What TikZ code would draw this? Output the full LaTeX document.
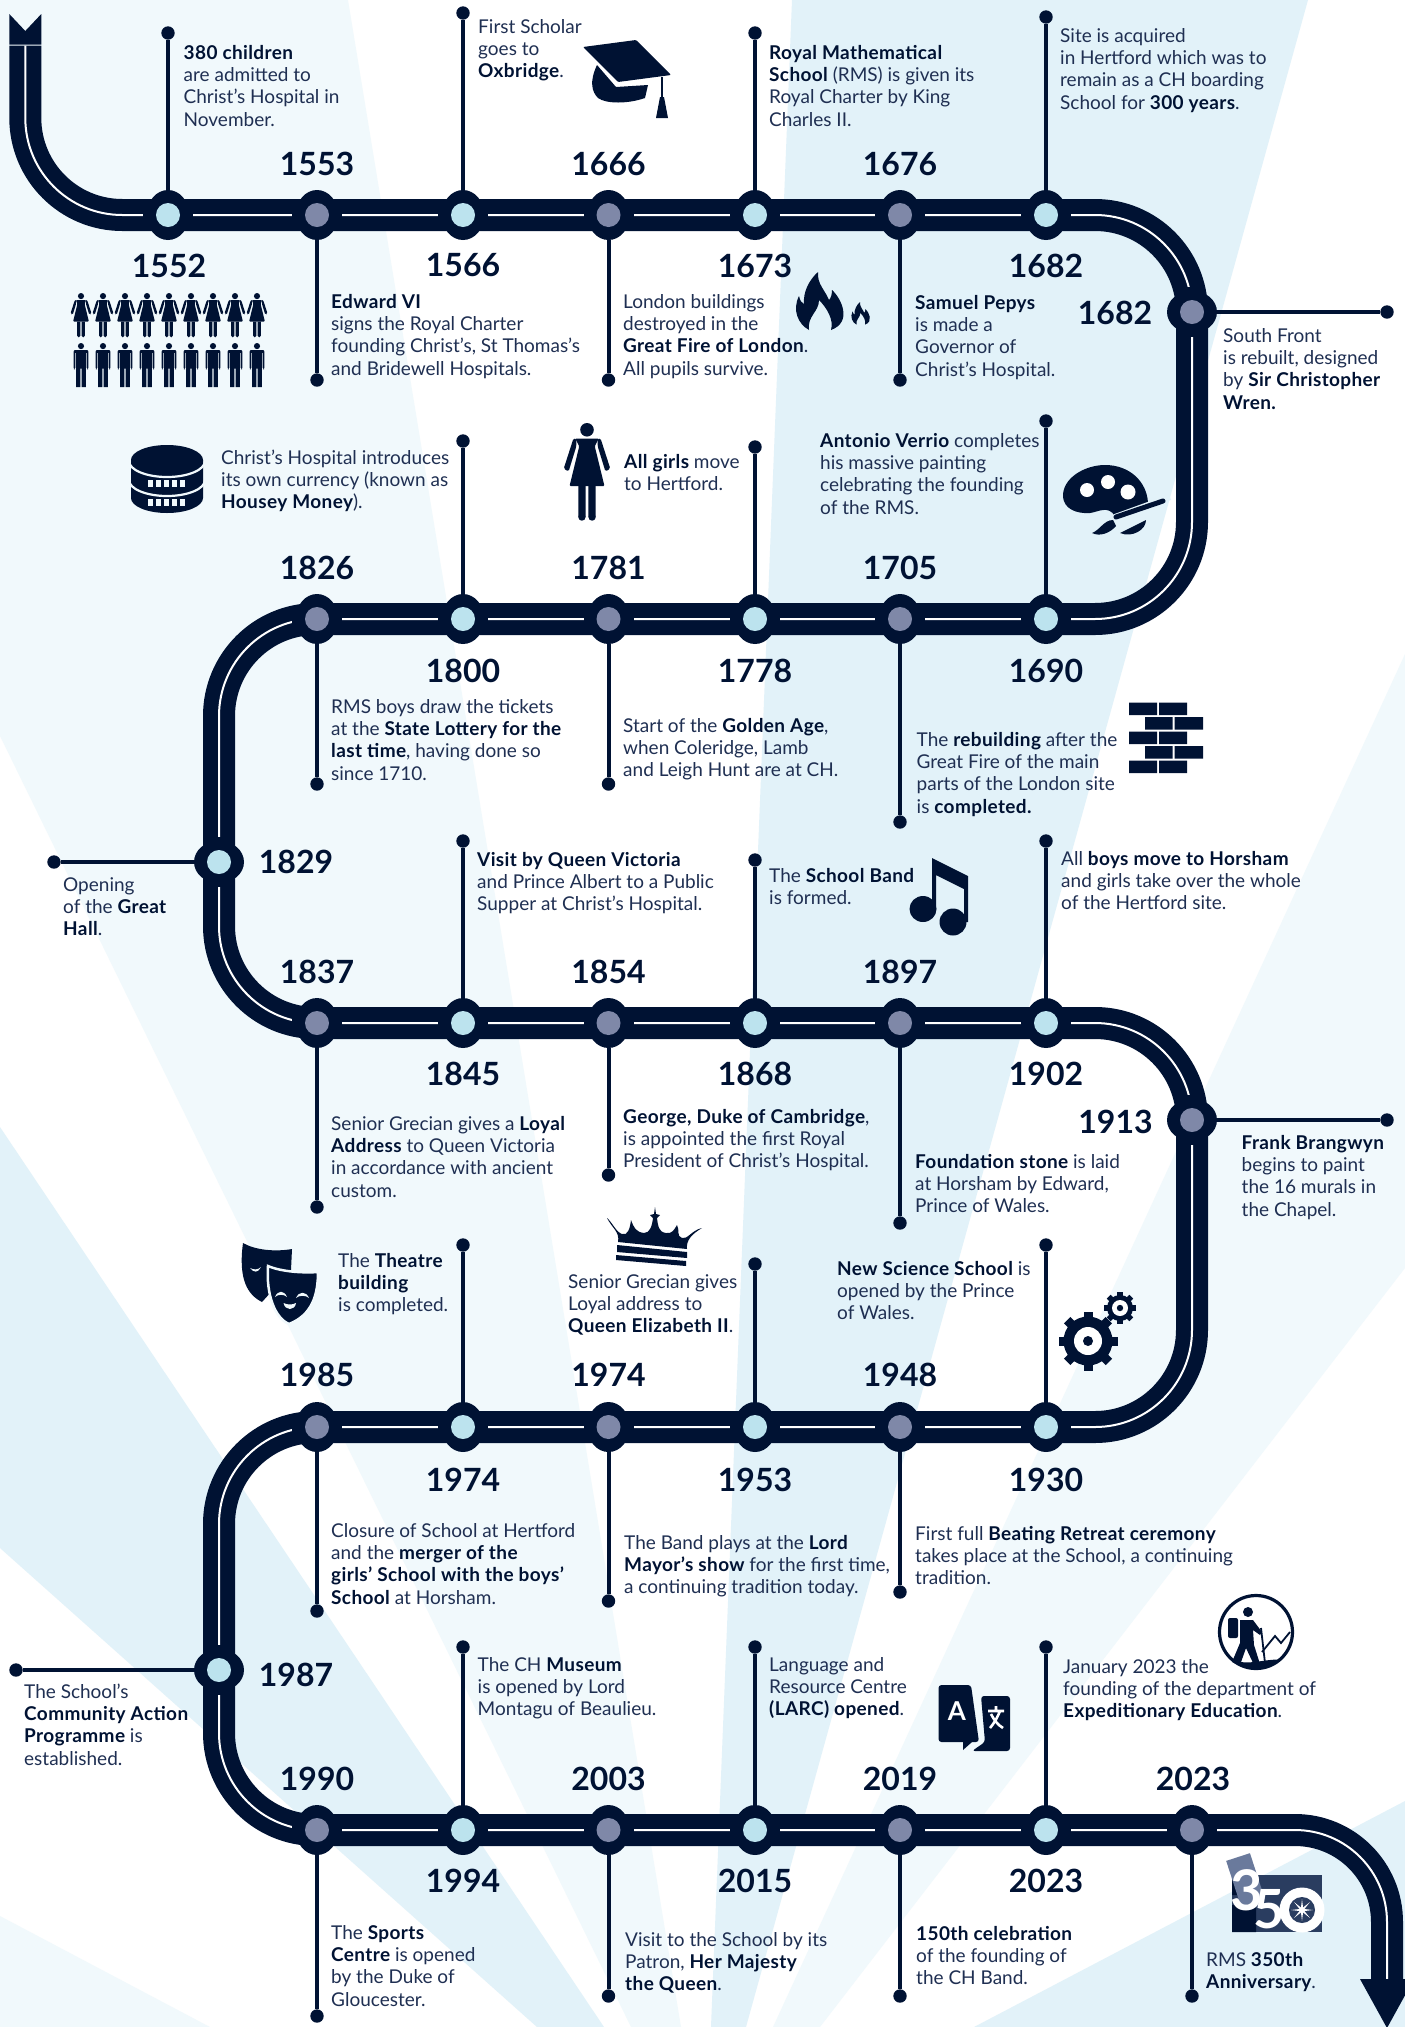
\documentclass[tikz,border=0pt]{standalone}
\usepackage{fontspec}
\usetikzlibrary{shapes.geometric}
\setmainfont{Lato}
\definecolor{trk}{HTML}{001233}
\definecolor{txtc}{HTML}{1F2F52}
\definecolor{pale}{HTML}{F1F9FC}
\definecolor{midb}{HTML}{E2F2F9}
\definecolor{greyst}{HTML}{7F88A8}
\definecolor{lightst}{HTML}{BCE3EE}
\definecolor{logob}{HTML}{2A3D60}
\definecolor{logog}{HTML}{6A7A9C}
\newcommand\bd[1]{{\bfseries\addfontfeature{LetterSpace=2}\color{trk}#1}}
\tikzset{
  stnh/.style={ellipse,fill=trk,inner sep=0pt,minimum width=42.5pt,minimum height=50pt},
  stnv/.style={ellipse,fill=trk,inner sep=0pt,minimum width=50pt,minimum height=42.5pt},
  stnc/.style={circle,inner sep=0pt,minimum size=24pt},
  stemline/.style={draw=trk,line width=4pt},
  stemdot/.style={circle,fill=trk,inner sep=0pt,minimum size=13.4pt},
  desc/.style={anchor=north west,inner sep=0pt,align=left,text=txtc,font=\fontsize{19}{22.3}\selectfont},
  yearlab/.style={anchor=center,inner sep=0pt,text=trk,font=\bfseries\fontsize{32}{32}\selectfont},
}
\newcommand\stnH[4]{\fill[trk] ({#2-25},{#3-8}) rectangle ({#2+25},{#3+8});
  \node[stnh] (#1) at (#2,#3) {}; \node[stnc,fill=#4] (#1c) at (#2,#3) {};}
\newcommand\stnV[4]{\fill[trk] ({#2-8},{#3-25}) rectangle ({#2+8},{#3+25});
  \node[stnv] (#1) at (#2,#3) {}; \node[stnc,fill=#4] (#1c) at (#2,#3) {};}
\newcommand\stemto[3]{\node[stemdot] (#1d) at (#2,#3) {}; \draw[stemline] (#1) -- (#1d);}
\newcommand\desctext[4]{\node[desc] (#1) at (#2,{#3-15}) {\rule{0pt}{15pt}#4};}
\newcommand\yr[4]{\node[yearlab] (#1) at (#2,#3) {#4};}
\newcommand\womanicon[3]{\begin{scope}[shift={(#1,#2)},scale=#3]
  \fill[trk] (0,7) circle[radius=7];
  \fill[trk,rounded corners=1] (-12,16) -- (12,16) -- (8,24) -- (18,65) -- (-18,65) -- (-8,24) -- cycle;
  \fill[trk] (-9,65) rectangle (-1.5,97) (1.5,65) rectangle (9,97);
  \fill[trk] (-5.25,97) circle[radius=3.75] (5.25,97) circle[radius=3.75];
  \fill[trk,rounded corners=1.5] (-11,16) -- (-14,16) -- (-24,47) -- (-19,50) -- (-11,24) -- cycle;
  \fill[trk,rounded corners=1.5] (11,16) -- (14,16) -- (24,47) -- (19,50) -- (11,24) -- cycle;
\end{scope}}
\newcommand\manicon[3]{\begin{scope}[shift={(#1,#2)},scale=#3]
  \fill[trk] (0,7) circle[radius=7];
  \fill[trk,rounded corners=1.5] (-11,16) rectangle (11,58);
  \fill[trk] (-11,55) rectangle (-1.3,100) (1.3,55) rectangle (11,100);
  \fill[trk,rounded corners=1.5] (-17,16) rectangle (-13,60) (13,16) rectangle (17,60);
  \fill[trk] (-14,16) rectangle (14,22);
\end{scope}}
\newcommand\flameicon[3]{\begin{scope}[shift={(#1,#2)},scale=#3]
 \fill[trk] (14,58) .. controls (3,52) and (-3,38) .. (4,24) .. controls (5,29) and (7,31) .. (9,32) .. controls (8,20) and (14,8) .. (23,0) .. controls (22,12) and (30,18) .. (34,28) .. controls (36,26) and (37,22) .. (37,18) .. controls (46,26) and (58,50) .. (36,58) .. controls (39,48) and (32,36) .. (24,28) .. controls (24,40) and (12,44) .. (14,58) -- cycle;
\end{scope}}
\begin{document}
\begin{tikzpicture}[x=1pt,y=-1pt]
\useasboundingbox (0,0) rectangle (1405,2027);
\fill[white] (0,0) rectangle (1405,2027);
% rays
\fill[pale] (0,0) -- (348,0) -- (681,2027) -- (631,2027) -- (0,736) -- cycle;
\fill[pale] (1405,654) -- (1405,1268) -- (820,2027) -- (773,2027) -- cycle;
\fill[pale] (0,1916) -- (210,2027) -- (0,2027) -- cycle;
\fill[midb] (792,0) -- (1308,0) -- (746,2027) -- (711,2027) -- cycle;
\fill[midb] (0,1127) -- (604,2027) -- (537,2027) -- (0,1548) -- cycle;
\fill[midb] (1405,1801) -- (1405,2027) -- (974,2027) -- cycle;
% track
\def\trackpath{(25.3,45.5) -- (25.3,215) -- (1192,215) -- (1192,619) -- (219,619) -- (219,1023) -- (1192,1023) -- (1192,1427) -- (219,1427) -- (219,1830) [rounded corners=92pt] -- (1387,1830) -- (1387,1979)}
\draw[trk,line width=32pt,rounded corners=97pt] \trackpath;
\draw[white,line width=2pt,rounded corners=97pt] \trackpath;
\fill[trk] (9.3,14) -- (25.3,31) -- (41.3,14) -- (41.3,44.5) -- (9.3,44.5) -- cycle;
\fill[trk] (1360,1979) -- (1414,1979) -- (1387,2028) -- cycle;
% stations
\def\gs{greyst}\def\ls{lightst}
\stnH{a1}{168}{215}{\ls}\stnH{a2}{317}{215}{\gs}\stnH{a3}{463}{215}{\ls}\stnH{a4}{608.5}{215}{\gs}\stnH{a5}{755}{215}{\ls}\stnH{a6}{900}{215}{\gs}\stnH{a7}{1046}{215}{\ls}
\stnV{a8}{1192}{312}{\gs}
\stnH{b1}{1046}{619}{\ls}\stnH{b2}{900}{619}{\gs}\stnH{b3}{755}{619}{\ls}\stnH{b4}{608.5}{619}{\gs}\stnH{b5}{463}{619}{\ls}\stnH{b6}{317}{619}{\gs}
\stnV{b7}{219}{862}{\ls}
\stnH{c1}{317}{1023}{\gs}\stnH{c2}{463}{1023}{\ls}\stnH{c3}{608.5}{1023}{\gs}\stnH{c4}{755}{1023}{\ls}\stnH{c5}{900}{1023}{\gs}\stnH{c6}{1046}{1023}{\ls}
\stnV{c7}{1192}{1120}{\gs}
\stnH{d1}{1046}{1427}{\ls}\stnH{d2}{900}{1427}{\gs}\stnH{d3}{755}{1427}{\ls}\stnH{d4}{608.5}{1427}{\gs}\stnH{d5}{463}{1427}{\ls}\stnH{d6}{317}{1427}{\gs}
\stnV{d7}{219}{1670}{\ls}
\stnH{e1}{317}{1830}{\gs}\stnH{e2}{463}{1830}{\ls}\stnH{e3}{608.5}{1830}{\gs}\stnH{e4}{755}{1830}{\ls}\stnH{e5}{900}{1830}{\gs}\stnH{e6}{1046}{1830}{\ls}\stnH{e7}{1192}{1830}{\gs}
% stems
\stemto{a1}{168}{33}\stemto{a2}{317}{380}\stemto{a3}{463}{13}\stemto{a4}{608.5}{380}\stemto{a5}{755}{33}\stemto{a6}{900}{380}\stemto{a7}{1046}{17}\stemto{a8}{1387}{312}
\stemto{b1}{1046}{421}\stemto{b2}{900}{822}\stemto{b3}{755}{447}\stemto{b4}{608.5}{784}\stemto{b5}{463}{441}\stemto{b6}{317}{784}\stemto{b7}{54}{862}
\stemto{c1}{317}{1207}\stemto{c2}{463}{841}\stemto{c3}{608.5}{1175}\stemto{c4}{755}{860}\stemto{c5}{900}{1223}\stemto{c6}{1046}{841}\stemto{c7}{1387}{1120}
\stemto{d1}{1046}{1245}\stemto{d2}{900}{1592}\stemto{d3}{755}{1264}\stemto{d4}{608.5}{1601}\stemto{d5}{463}{1245}\stemto{d6}{317}{1611}\stemto{d7}{16}{1670}
\stemto{e1}{317}{2016}\stemto{e2}{463}{1647}\stemto{e3}{608.5}{1996}\stemto{e4}{755}{1647}\stemto{e5}{900}{1996}\stemto{e6}{1046}{1647}\stemto{e7}{1192}{1996}
% years
\yr{y1}{169}{266}{1552}\yr{y2}{317}{164}{1553}\yr{y3}{463}{265}{1566}\yr{y4}{608.5}{164}{1666}\yr{y5}{755}{266}{1673}\yr{y6}{900}{164}{1676}\yr{y7}{1046}{266}{1682}\yr{y8}{1115}{313}{1682}
\yr{y9}{317}{568}{1826}\yr{y10}{463}{671}{1800}\yr{y11}{608.5}{568}{1781}\yr{y12}{755}{671}{1778}\yr{y13}{900}{568}{1705}\yr{y14}{1046}{671}{1690}\yr{y15}{296}{862}{1829}
\yr{y16}{317}{972}{1837}\yr{y17}{463}{1074}{1845}\yr{y18}{608.5}{972}{1854}\yr{y19}{755}{1074}{1868}\yr{y20}{900}{972}{1897}\yr{y21}{1046}{1074}{1902}\yr{y22}{1115.5}{1122}{1913}
\yr{y23}{317}{1375}{1985}\yr{y24}{463}{1479.5}{1974}\yr{y25}{608.5}{1375}{1974}\yr{y26}{755}{1479.5}{1953}\yr{y27}{900}{1375}{1948}\yr{y28}{1046}{1479.5}{1930}\yr{y29}{296}{1675}{1987}
\yr{y30}{317}{1779}{1990}\yr{y31}{463}{1881}{1994}\yr{y32}{608.5}{1779}{2003}\yr{y33}{755}{1881}{2015}\yr{y34}{900}{1779}{2019}\yr{y35}{1046}{1881}{2023}\yr{y36}{1193}{1779}{2023}
% texts
\desctext{t1}{183.5}{59}{\bd{380 children}\\are admitted to\\Christ’s Hospital in\\November.}
\desctext{t2}{478}{33}{First Scholar\\goes to\\\bd{Oxbridge}.}
\desctext{t3}{331}{308}{\bd{Edward VI}\\signs the Royal Charter\\founding Christ’s, St Thomas’s\\and Bridewell Hospitals.}
\desctext{t4}{623}{308}{London buildings\\destroyed in the\\\bd{Great Fire of London}.\\All pupils survive.}
\desctext{t5}{769}{59}{\bd{Royal Mathematical}\\\bd{School} (RMS) is given its\\Royal Charter by King\\Charles II.}
\desctext{t6}{1060}{42}{Site is acquired\\in Hertford which was to\\remain as a CH boarding\\School for \bd{300 years}.}
\desctext{t7}{915}{309}{\bd{Samuel Pepys}\\is made a\\Governor of\\Christ’s Hospital.}
\desctext{t8}{1223}{342}{South Front\\is rebuilt, designed\\by \bd{Sir Christopher}\\\bd{Wren.}}
\desctext{t9}{221}{464}{Christ’s Hospital introduces\\its own currency (known as\\\bd{Housey Money}).}
\desctext{t10}{624}{468}{\bd{All girls} move\\to Hertford.}
\desctext{t11}{820}{447}{\bd{Antonio Verrio} completes\\his massive painting\\celebrating the founding\\of the RMS.}
\desctext{t12}{331}{713}{RMS boys draw the tickets\\at the \bd{State Lottery for the}\\\bd{last time}, having done so\\since 1710.}
\desctext{t13}{623}{732}{Start of the \bd{Golden Age},\\when Coleridge, Lamb\\and Leigh Hunt are at CH.}
\desctext{t14}{916.5}{746}{The \bd{rebuilding} after the\\Great Fire of the main\\parts of the London site\\is \bd{completed.}}
\desctext{t15}{63}{891}{Opening\\of the \bd{Great}\\\bd{Hall}.}
\desctext{t16}{477}{866}{\bd{Visit by Queen Victoria}\\and Prince Albert to a Public\\Supper at Christ’s Hospital.}
\desctext{t17}{769}{882}{The \bd{School Band}\\is formed.}
\desctext{t18}{1061}{865}{All \bd{boys move to Horsham}\\and girls take over the whole\\of the Hertford site.}
\desctext{t19}{331}{1130}{Senior Grecian gives a \bd{Loyal}\\\bd{Address} to Queen Victoria\\in accordance with ancient\\custom.}
\desctext{t20}{623}{1123}{\bd{George, Duke of Cambridge},\\is appointed the first Royal\\President of Christ’s Hospital.}
\desctext{t21}{915}{1168}{\bd{Foundation stone} is laid\\at Horsham by Edward,\\Prince of Wales.}
\desctext{t22}{1241.5}{1149}{\bd{Frank Brangwyn}\\begins to paint\\the 16 murals in\\the Chapel.}
\desctext{t23}{338}{1267}{The \bd{Theatre}\\\bd{building}\\is completed.}
\desctext{t24}{568}{1288}{Senior Grecian gives\\Loyal address to\\\bd{Queen Elizabeth II}.}
\desctext{t25}{837}{1275}{\bd{New Science School} is\\opened by the Prince\\of Wales.}
\desctext{t26}{331}{1537}{Closure of School at Hertford\\and the \bd{merger of the}\\\bd{girls’ School with the boys’}\\\bd{School} at Horsham.}
\desctext{t27}{624}{1549}{The Band plays at the \bd{Lord}\\\bd{Mayor’s show} for the first time,\\a continuing tradition today.}
\desctext{t28}{915}{1540}{First full \bd{Beating Retreat ceremony}\\takes place at the School, a continuing\\tradition.}
\desctext{t29}{24}{1698}{The School’s\\\bd{Community Action}\\\bd{Programme} is\\established.}
\desctext{t30}{477.5}{1671}{The CH \bd{Museum}\\is opened by Lord\\Montagu of Beaulieu.}
\desctext{t31}{769}{1671}{Language and\\Resource Centre\\\bd{(LARC) opened}.}
\desctext{t32}{1063}{1673}{January 2023 the\\founding of the department of\\\bd{Expeditionary Education}.}
\desctext{t33}{331}{1939}{The \bd{Sports}\\\bd{Centre} is opened\\by the Duke of\\Gloucester.}
\desctext{t34}{625}{1946}{Visit to the School by its\\Patron, \bd{Her Majesty}\\\bd{the Queen}.}
\desctext{t35}{916}{1940}{\bd{150th celebration}\\of the founding of\\the CH Band.}
\desctext{t36}{1206}{1966}{RMS \bd{350th}\\\bd{Anniversary}.}
% people
\foreach \i in {0,...,8}{\womanicon{81+22*\i}{293}{0.44}\manicon{81+22*\i}{343}{0.44}}
\womanicon{587}{423}{0.97}
% grad cap
\fill[trk,rounded corners=1] (583,47) -- (636,40) -- (671,75) -- (618,82) -- cycle;
\fill[trk] (597,65) -- (616,87) -- (648,85) -- (645,98) .. controls (628,104) and (606,104) .. (598,98) .. controls (592,92) and (589,82) .. (597,65) -- cycle;
\draw[trk,line width=2.5pt] (662,77) -- (662,100);
\fill[trk] (660,97) -- (664,97) -- (668,118) -- (656,118) -- cycle;
% flames
\flameicon{795}{272}{1}
\flameicon{851}{302}{0.39}
% coins
\fill[trk] (131,460) -- (131,498) arc[start angle=180,end angle=0,x radius=36,y radius=15] -- (203,460) -- cycle;
\fill[trk] (167,460) ellipse[x radius=36,y radius=15];
\draw[pale,line width=2.2pt] (129,461) arc[start angle=180,end angle=0,x radius=38,y radius=16];
\draw[pale,line width=2.2pt] (129,480) arc[start angle=180,end angle=0,x radius=38,y radius=16];
\foreach \v in {479.5,498.5}{\foreach \u in {148,156,164,172,180}{\fill[pale] (\u,\v) rectangle (\u+5,\v+7.5);}}
% palette
\fill[trk] (1063,497) .. controls (1062,478) and (1085,465) .. (1105,465) .. controls (1130,465) and (1147,482) .. (1148,503) -- (1115,516) .. controls (1108,505) and (1098,512) .. (1090,513) .. controls (1075,514) and (1064,508) .. (1063,497) -- cycle;
\fill[white] (1087,490) circle[radius=7] (1108,482) circle[radius=7] (1128,492) circle[radius=7.5];
\draw[midb,line width=6pt] (1115,517) -- (1170,497);
\draw[trk,line width=5pt,line cap=round] (1116,517) -- (1163,501);
\fill[trk] (1092,533) .. controls (1100,530) and (1104,520) .. (1113,520) -- (1116,526) .. controls (1110,533) and (1100,537) .. (1092,533) -- cycle;
\fill[trk] (1120,533) -- (1146,520) .. controls (1146,530) and (1132,538) .. (1120,533) -- cycle;
% bricks
\foreach \r in {0,2,4}{\fill[trk] (1129,702.5+14.5*\r) rectangle (1157,715+14.5*\r) (1159,702.5+14.5*\r) rectangle (1187,715+14.5*\r);}
\foreach \r in {1,3}{\fill[trk] (1145,702.5+14.5*\r) rectangle (1172.5,715+14.5*\r) (1174.5,702.5+14.5*\r) rectangle (1203,715+14.5*\r);}
% music
\fill[trk] (923,909) ellipse[x radius=13.5,y radius=13];
\fill[trk] (953,922) ellipse[x radius=13.5,y radius=13.5];
\fill[trk] (932,858) -- (968,876) -- (968,922) -- (964,922) -- (964,889) -- (936,875) -- (936,909) -- (932,909) -- cycle;
% masks
\fill[trk] (243,1243) .. controls (255,1250) and (275,1252) .. (292,1249) -- (291,1270) -- (262,1302) .. controls (248,1295) and (238,1280) .. (243,1243) -- cycle;
\fill[pale] (250,1268) .. controls (254,1273) and (258,1273) .. (261,1267) .. controls (258,1270) and (254,1270) .. (250,1268) -- cycle;
\fill[trk,draw=pale,line width=2.5pt] (268,1266) .. controls (282,1272) and (304,1273) .. (318,1272) .. controls (318,1295) and (312,1315) .. (289,1324) .. controls (275,1318) and (266,1295) .. (268,1266) -- cycle;
\fill[pale] (275,1297) .. controls (278,1290) and (284,1290) .. (287,1297) .. controls (284,1294) and (278,1294) .. (275,1297) -- cycle;
\fill[pale] (296,1298) .. controls (299,1291) and (306,1291) .. (309,1298) .. controls (306,1295) and (299,1295) .. (296,1298) -- cycle;
\fill[pale] (283.5,1303) .. controls (288,1305) and (292,1305) .. (296,1303) .. controls (295,1311) and (285,1311) .. (283.5,1303) -- cycle;
% crown
\fill[trk] (607,1218) .. controls (612,1228) and (620,1232) .. (618,1242) -- (687,1249) .. controls (686,1240) and (692,1234) .. (702,1228) .. controls (692,1230) and (687,1240) .. (682,1238) .. controls (676,1236) and (680,1230) .. (677,1225) .. controls (674,1230) and (672,1234) .. (666,1233) .. controls (658,1232) and (658,1225) .. (657,1218) -- (660,1215) -- (656,1214) -- (655,1207) -- (654,1214) -- (650,1215) -- (653,1218) .. controls (652,1226) and (650,1233) .. (644,1233) .. controls (636,1232) and (634,1228) .. (631,1220) .. controls (630,1228) and (628,1236) .. (622,1234) .. controls (616,1232) and (612,1222) .. (607,1218) -- cycle;
\fill[trk] (617,1245) -- (687,1252) -- (687,1258) -- (617,1252) -- cycle;
\fill[trk] (616,1255) -- (686,1261) -- (686,1266) -- (616,1260) -- cycle;
% gears
\begin{scope}[shift={(1088,1341)}]
\foreach \a in {0,45,...,315}{\fill[trk,rotate=\a] (-4.5,-29.5) rectangle (4.5,-18);}
\fill[trk] (0,0) circle[radius=24.5];
\fill[white] (0,0) circle[radius=14];
\fill[trk] (0,0) circle[radius=5];
\end{scope}
\begin{scope}[shift={(1120,1308)}]
\foreach \a in {0,45,...,315}{\fill[trk,rotate=\a] (-2.7,-16) rectangle (2.7,-9);}
\fill[trk] (0,0) circle[radius=13];
\fill[white] (0,0) circle[radius=8];
\fill[trk] (0,0) circle[radius=3.2];
\end{scope}
% hiker
\draw[trk,line width=3.2pt] (1256,1632) circle[radius=36.5];
\fill[trk] (1248,1612) circle[radius=5];
\fill[trk,rounded corners=2] (1228,1618) -- (1238,1618) -- (1238,1638) -- (1228,1638) -- cycle;
\fill[trk] (1240,1620) -- (1253,1620) -- (1262,1632) -- (1260,1635) -- (1253,1630) -- (1254,1645) -- (1260,1664) -- (1254,1665) -- (1246,1648) -- (1240,1665) -- (1232,1662) -- (1240,1643) -- cycle;
\draw[trk,line width=1.8pt] (1261,1628) -- (1265,1663);
\draw[trk,line width=1.8pt] (1262,1652) -- (1275,1636) -- (1281,1643) -- (1290,1632);
\begin{scope}
\clip (1256,1632) circle[radius=36.5];
\fill[trk] (1236,1672) -- (1240,1662) .. controls (1255,1664) and (1270,1658) .. (1282,1660) -- (1282,1672) -- cycle;
\end{scope}
% translate
\fill[trk,rounded corners=3] (981,1696) -- (1010,1696) -- (1010,1751) -- (972,1751) -- (985,1742) -- cycle;
\fill[trk,rounded corners=3] (938.5,1685) -- (971,1685) -- (979,1742) -- (938.5,1742) -- cycle;
\fill[trk] (963,1742) -- (972,1742) -- (963,1750) -- cycle;
\node[inner sep=0pt,text=white,font=\bfseries\fontsize{26}{26}\selectfont] (tA) at (957,1711) {A};
\draw[white,line width=2.6pt] (988,1711) -- (1004,1711) (996,1706) -- (996,1711) (990,1728) .. controls (995,1722) and (998,1716) .. (1000,1711) (991,1714) .. controls (994,1720) and (998,1725) .. (1003,1728);
% 350 logo
\fill[logob] (1232,1875) rectangle (1322,1932);
\fill[trk] (1232,1875) rectangle (1243,1895) (1232,1905) rectangle (1256,1932);
\fill[logog,rotate around={18:(1245,1880)}] (1233,1856) rectangle (1258,1904);
\node[inner sep=0pt,text=white,font=\bfseries\fontsize{56}{56}\selectfont] (l3) at (1247,1890) {3};
\node[inner sep=0pt,text=white,font=\bfseries\fontsize{54}{54}\selectfont] (l5) at (1269,1909) {5};
\fill[white] (1302,1910) circle[radius=22.5];
\fill[logob] (1302,1910) circle[radius=13];
\foreach \a in {0,45,...,315}{\fill[white,rotate around={\a:(1302,1910)}] (1300.7,1910) -- (1302,1899) -- (1303.3,1910) -- cycle;}
\end{tikzpicture}
\end{document}
